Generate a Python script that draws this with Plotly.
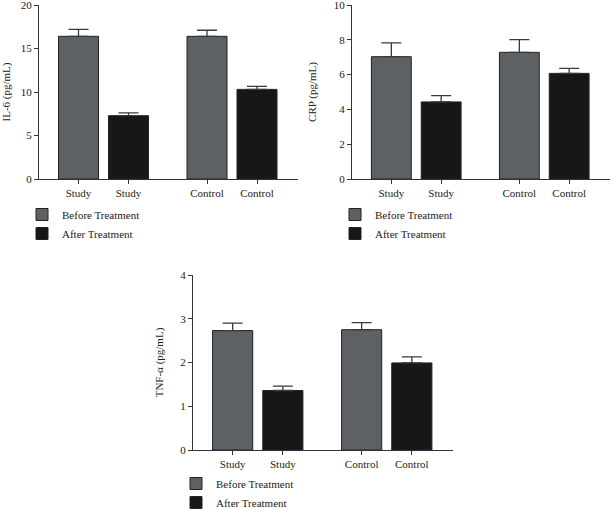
import plotly.graph_objects as go

# Data ----------------------------------------------------------------
groups = ["Study", "Control"]
series = ["Before Treatment", "After Treatment"]

il6_before = [16.4, 16.4]
il6_before_err = [0.8, 0.7]
il6_after = [7.28, 10.3]
il6_after_err = [0.32, 0.35]

crp_before = [7.03, 7.28]
crp_before_err = [0.79, 0.73]
crp_after = [4.43, 6.07]
crp_after_err = [0.36, 0.29]

tnf_before = [2.73, 2.75]
tnf_before_err = [0.17, 0.16]
tnf_after = [1.36, 1.99]
tnf_after_err = [0.10, 0.14]

panels = [
    ("IL-6 (pg/mL)", il6_before, il6_before_err, il6_after, il6_after_err, [0, 20], 5),
    ("CRP (pg/mL)", crp_before, crp_before_err, crp_after, crp_after_err, [0, 10], 2),
    ("TNF-α (pg/mL)", tnf_before, tnf_before_err, tnf_after, tnf_after_err, [0, 4], 1),
]

colors = ["#5e6164", "#151718"]
FONT = "Liberation Serif"
W, H = 612, 510

# panel boxes in pixels: (left, right, top, bottom)
boxes = [(39, 298, 5, 179), (352, 610, 5, 179), (193, 453, 275, 450)]
# legend top-left anchor in pixels
legend_pos = [(22, 200), (335, 200), (176, 469)]

group_gap = 2.57  # distance between the two group starts, in bar slots

fig = go.Figure()

for p, (title, before, berr, after, aerr, yrange, dtick) in enumerate(panels):
    n = "" if p == 0 else str(p + 1)
    xa, ya = "x" + n, "y" + n
    legend_name = "legend" + n
    x_before = [g * group_gap for g in range(len(groups))]
    x_after = [g * group_gap + 1 for g in range(len(groups))]
    for name, xs, vals, errs, col in [
        (series[0], x_before, before, berr, colors[0]),
        (series[1], x_after, after, aerr, colors[1]),
    ]:
        fig.add_trace(
            go.Bar(
                x=xs,
                y=vals,
                name=name,
                width=0.8,
                marker=dict(color=col, line=dict(color="#222222", width=1)),
                error_y=dict(
                    type="data",
                    symmetric=False,
                    array=errs,
                    arrayminus=[0] * len(errs),
                    color="#3a3a3a",
                    thickness=1.3,
                    width=10,
                ),
                xaxis=xa,
                yaxis=ya,
                legend=legend_name,
            )
        )

    l, r, t, b = boxes[p]
    tickvals = sorted(x_before + x_after)
    ticktext = [groups[int(v // group_gap)] for v in tickvals]
    axis_common = dict(
        showline=True,
        linecolor="#333333",
        linewidth=1,
        ticks="outside",
        ticklen=4,
        tickcolor="#333333",
        showgrid=False,
        zeroline=False,
        automargin=False,
        ticklabeloverflow="allow",
        tickfont=dict(family=FONT, size=11, color="#222222"),
    )
    fig.update_layout(
        {
            "xaxis" + n: dict(
                domain=[l / W, r / W],
                anchor=ya,
                range=[-0.79, 4.39],
                tickvals=tickvals,
                ticktext=ticktext,
                **axis_common,
            ),
            "yaxis" + n: dict(
                domain=[1 - b / H, 1 - t / H],
                anchor=xa,
                range=yrange,
                dtick=dtick,
                title=dict(text=title, font=dict(family=FONT, size=11, color="#222222"), standoff=14),
                **axis_common,
            ),
            legend_name: dict(
                x=legend_pos[p][0] / W,
                y=1 - legend_pos[p][1] / H,
                xanchor="left",
                yanchor="top",
                font=dict(family=FONT, size=11, color="#222222"),
                bgcolor="rgba(0,0,0,0)",
                itemwidth=30,
                tracegroupgap=0,
            ),
        }
    )

fig.update_layout(
    width=W,
    height=H,
    margin=dict(l=0, r=0, t=0, b=0, autoexpand=False),
    plot_bgcolor="white",
    paper_bgcolor="white",
    barmode="overlay",
    showlegend=True,
    font=dict(family=FONT, size=11, color="#222222"),
)

# drop the default page margin so the figure sits at the window's corner
fig.write_html(
    "out.html",
    config={"displayModeBar": False},
    post_script="document.body.style.margin = '0';",
)
